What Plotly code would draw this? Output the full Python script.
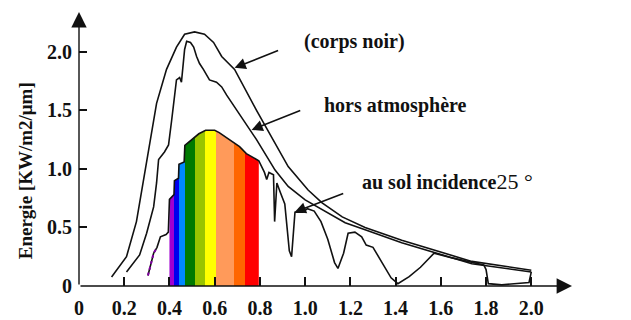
import plotly.graph_objects as go

# ---------------- data ----------------
bb_lambda = [0.144, 0.21, 0.254, 0.299, 0.343, 0.387, 0.431, 0.467, 0.511, 0.555,
             0.595, 0.631, 0.688, 0.785, 0.843, 0.925, 1.013, 1.075, 1.164, 1.265,
             1.427, 1.737, 2.0]
bb_energy = [0.077, 0.25, 0.55, 1.08, 1.56, 1.85, 2.04, 2.15, 2.17, 2.15,
             2.08, 1.96, 1.85, 1.50, 1.30, 1.02, 0.82, 0.71, 0.59, 0.50,
             0.39, 0.21, 0.135]

ext_lambda = [0.21, 0.241, 0.268, 0.299, 0.33, 0.343, 0.352, 0.378, 0.396, 0.41,
              0.431, 0.445, 0.453, 0.467, 0.476, 0.493, 0.507, 0.52, 0.533, 0.55,
              0.577, 0.608, 0.631, 0.653, 0.785, 0.867, 0.925, 1.0, 1.075, 1.177,
              1.265, 1.427, 1.737, 2.0]
ext_energy = [0.12, 0.20, 0.265, 0.45, 0.675, 0.88, 1.08, 1.145, 1.205, 1.42,
              1.76, 1.78, 1.74, 2.02, 2.09, 2.08, 2.04, 1.96, 1.90, 1.85,
              1.76, 1.74, 1.70, 1.63, 1.25, 0.99, 0.85, 0.735, 0.65, 0.54,
              0.48, 0.37, 0.19, 0.12]

sol_lambda = [0.305, 0.33, 0.345, 0.36, 0.385, 0.395, 0.40, 0.42, 0.422, 0.44,
              0.442, 0.465, 0.468, 0.50, 0.53, 0.56, 0.60, 0.62, 0.65, 0.68,
              0.71, 0.74, 0.76, 0.795, 0.82, 0.83, 0.84, 0.86, 0.865, 0.875,
              0.89, 0.91, 0.93, 0.94, 0.955, 0.99, 1.01, 1.04, 1.07, 1.10,
              1.13, 1.145, 1.17, 1.19, 1.22, 1.25, 1.27, 1.30, 1.34, 1.38,
              1.41, 1.46, 1.51, 1.57, 1.65, 1.79, 1.80, 1.81, 1.87, 1.99, 2.0]
sol_energy = [0.09, 0.28, 0.33, 0.42, 0.44, 0.46, 0.74, 0.78, 0.90, 0.92,
              1.04, 1.06, 1.20, 1.25, 1.30, 1.33, 1.33, 1.31, 1.27, 1.23,
              1.19, 1.13, 1.11, 1.07, 0.97, 0.91, 0.97, 0.95, 0.55, 0.88,
              0.80, 0.70, 0.30, 0.25, 0.63, 0.63, 0.66, 0.64, 0.55, 0.40,
              0.20, 0.15, 0.28, 0.45, 0.46, 0.42, 0.35, 0.33, 0.20, 0.07,
              0.02, 0.08, 0.16, 0.28, 0.24, 0.18, 0.14, 0.02, 0.01, 0.03, 0.12]

# visible spectrum bands (edges in µm) and colours
band_edges = [0.40, 0.422, 0.44, 0.467, 0.511, 0.555, 0.608, 0.684, 0.732, 0.795]
band_colors = ["#a000d0", "#0000ee", "#0088ff", "#007a00", "#99c400",
               "#ffff00", "#ff9a5a", "#ff6600", "#ff0000"]

x_ticks = [0, 0.2, 0.4, 0.6, 0.8, 1.0, 1.2, 1.4, 1.6, 1.8, 2.0]
x_tick_text = ["0", "0.2", "0.4", "0.6", "0.8", "1.0", "1.2", "1.4", "1.6", "1.8", "2.0"]
y_ticks = [0, 0.5, 1.0, 1.5, 2.0]
y_tick_text = ["0", "0.5", "1.0", "1.5", "2.0"]

FONT = "Liberation Serif"

# ---------------- figure ----------------
fig = go.Figure()

# rainbow fill under the ground curve
lo, hi = band_edges[0], band_edges[-1]
cs = []
for i, c in enumerate(band_colors):
    a = (band_edges[i] - lo) / (hi - lo)
    b = (band_edges[i + 1] - lo) / (hi - lo)
    cs.append([a, c])
    cs.append([b, c])
fx = [l for l in sol_lambda if lo <= l <= hi]
fy = [e for l, e in zip(sol_lambda, sol_energy) if lo <= l <= hi]
fig.add_trace(go.Scatter(
    x=fx, y=fy, mode="lines", fill="tozeroy", line=dict(width=0),
    fillgradient=dict(type="horizontal", colorscale=cs, start=lo, stop=hi),
    hoverinfo="skip", showlegend=False))

line_style = dict(color="#111111", width=1.6)
fig.add_trace(go.Scatter(x=bb_lambda, y=bb_energy, mode="lines",
                         line=line_style, showlegend=False))
fig.add_trace(go.Scatter(x=ext_lambda, y=ext_energy, mode="lines",
                         line=line_style, showlegend=False))
fig.add_trace(go.Scatter(x=sol_lambda, y=sol_energy, mode="lines",
                         line=line_style, showlegend=False))
# purple UV start of the ground curve
fig.add_trace(go.Scatter(x=sol_lambda[:3], y=sol_energy[:3], mode="lines",
                         line=dict(color="#8000a0", width=2, dash="dot"),
                         showlegend=False))

X_MAX, Y_MAX = 2.18, 2.34

annotations = []
# axis arrows
annotations.append(dict(x=X_MAX, y=0, ax=0, ay=0, xref="x", yref="y", axref="x", ayref="y",
                        showarrow=True, arrowhead=2, arrowsize=2.2, arrowwidth=1.4,
                        arrowcolor="#111111", text=""))
annotations.append(dict(x=0, y=Y_MAX, ax=0, ay=0, xref="x", yref="y", axref="x", ayref="y",
                        showarrow=True, arrowhead=2, arrowsize=2.2, arrowwidth=1.4,
                        arrowcolor="#111111", text=""))
# pointer arrows
for (hx, hy, tx, ty) in [(0.688, 1.863, 0.887, 2.017),
                         (0.763, 1.333, 0.985, 1.504),
                         (0.954, 0.632, 1.175, 0.795)]:
    annotations.append(dict(x=hx, y=hy, ax=tx, ay=ty, xref="x", yref="y", axref="x", ayref="y",
                            showarrow=True, arrowhead=2, arrowsize=1.4, arrowwidth=1.6,
                            arrowcolor="#111111", text=""))

lab_font = dict(family=FONT, size=20, color="#111111")
annotations += [
    dict(x=0.985, y=2.085, xref="x", yref="y", xanchor="left", yanchor="middle",
         text="<b>(corps noir)</b>", showarrow=False, font=lab_font),
    dict(x=1.075, y=1.538, xref="x", yref="y", xanchor="left", yanchor="middle",
         text="<b>hors atmosphère</b>", showarrow=False, font=lab_font),
    dict(x=1.243, y=0.889, xref="x", yref="y", xanchor="left", yanchor="middle",
         text="<b>au sol incidence</b><span style='font-size:22px'>25 °</span>",
         showarrow=False, font=lab_font),
    dict(x=2.208, y=-0.03, xref="x", yref="y", xanchor="left", yanchor="middle",
         text="<b>λ[μm]</b>", showarrow=False, font=lab_font),
    dict(x=0, y=0.98, xref="x", yref="y", xshift=-54, xanchor="center", yanchor="middle",
         textangle=-90, text="<b>Energie [KW/m2/μm]</b>", showarrow=False,
         font=dict(family=FONT, size=19, color="#111111")),
]

tick_font = dict(family=FONT, size=20, color="#111111", weight="bold")
fig.update_layout(
    width=631, height=320,
    margin=dict(l=79, r=59, t=12, b=34),
    paper_bgcolor="white", plot_bgcolor="white",
    font=dict(family=FONT, color="#111111"),
    showlegend=False,
    annotations=annotations,
    xaxis=dict(range=[0, X_MAX], tickvals=x_ticks, ticktext=x_tick_text,
               ticks="inside", ticklen=9, tickwidth=1.6, tickcolor="#111111",
               showline=False, showgrid=False, zeroline=False, automargin=False,
               tickfont=tick_font, ticklabelstandoff=8, fixedrange=True),
    yaxis=dict(range=[0, Y_MAX], tickvals=y_ticks, ticktext=y_tick_text,
               ticks="inside", ticklen=8, tickwidth=1.6, tickcolor="#111111",
               showline=False, showgrid=False, zeroline=False, automargin=False,
               tickfont=tick_font, ticklabelstandoff=6, fixedrange=True),
)

fig.write_html("out.html", config={"displayModeBar": False},
               post_script="document.body.style.margin='0';document.body.style.overflow='hidden';")
